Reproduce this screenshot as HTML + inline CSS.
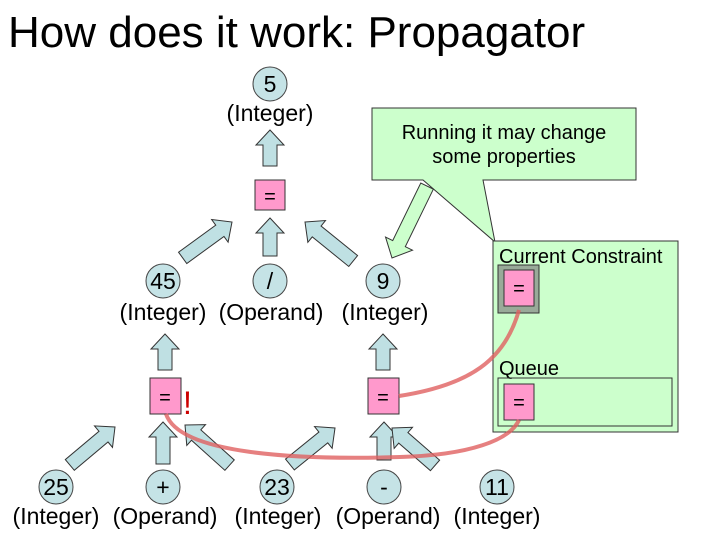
<!DOCTYPE html>
<html><head><style>
body{margin:0;background:#fff}
svg{display:block}
text{font-family:"Liberation Sans",sans-serif;fill:#000}
</style></head><body>
<svg width="720" height="540" viewBox="0 0 720 540">
<text x="8" y="47" font-size="44">How does it work: Propagator</text>

<!-- callout -->
<polygon points="372,108 636,108 636,180 483,180 495,242 423,180 372,180" fill="#ccffcc" stroke="#333" stroke-width="1"/>
<text x="504" y="139" font-size="20" text-anchor="middle">Running it may change</text>
<text x="504" y="163" font-size="20" text-anchor="middle">some properties</text>

<!-- green box -->
<rect x="493" y="241" width="185" height="191" fill="#ccffcc" stroke="#333"/>
<text x="499" y="263" font-size="20">Current Constraint</text>
<rect x="498" y="265" width="41" height="48" fill="#99aa99" stroke="#333"/>
<rect x="504" y="270" width="30" height="36" fill="#ff99cc" stroke="#333"/>
<text x="519" y="295" font-size="20" text-anchor="middle">=</text>
<text x="499" y="375" font-size="20">Queue</text>
<rect x="498" y="378" width="174" height="48" fill="none" stroke="#333"/>
<rect x="504" y="384" width="30" height="36" fill="#ff99cc" stroke="#333"/>
<text x="519" y="409" font-size="20" text-anchor="middle">=</text>

<!-- arrows -->
<g fill="#bfe0e3" stroke="#333" stroke-width="1">
<polygon transform="translate(270,130)" points="0,0 14,15 7,15 7,36 -7,36 -7,15 -14,15"/>
<polygon transform="translate(270,218)" points="0,0 14,15 7,15 7,38 -7,38 -7,15 -14,15"/>
<polygon transform="translate(232,222) rotate(54)" points="0,0 14,15 7,15 7,61 -7,61 -7,15 -14,15"/>
<polygon transform="translate(305,222) rotate(-51)" points="0,0 14,15 7,15 7,62 -7,62 -7,15 -14,15"/>
<polygon transform="translate(165,334)" points="0,0 14,15 7,15 7,36 -7,36 -7,15 -14,15"/>
<polygon transform="translate(383,334)" points="0,0 14,15 7,15 7,36 -7,36 -7,15 -14,15"/>
<polygon transform="translate(115,427) rotate(50)" points="0,0 14,15 7,15 7,59 -7,59 -7,15 -14,15"/>
<polygon transform="translate(163,422)" points="0,0 14,15 7,15 7,42 -7,42 -7,15 -14,15"/>
<polygon transform="translate(185,425) rotate(-48)" points="0,0 14,15 7,15 7,60 -7,60 -7,15 -14,15"/>
<polygon transform="translate(335,428) rotate(51)" points="0,0 14,15 7,15 7,58 -7,58 -7,15 -14,15"/>
<polygon transform="translate(384,422)" points="0,0 14,15 7,15 7,38 -7,38 -7,15 -14,15"/>
<polygon transform="translate(392,428) rotate(-49)" points="0,0 14,15 7,15 7,57 -7,57 -7,15 -14,15"/>
</g>
<polygon transform="translate(392,258) rotate(-154)" points="0,0 15,16 7,16 7,80 -7,80 -7,16 -15,16" fill="#ccffcc" stroke="#333"/>

<!-- circles -->
<g fill="#c5e3e6" stroke="#444" stroke-width="1">
<circle cx="270" cy="84" r="17"/>
<circle cx="163" cy="281" r="17"/>
<circle cx="270" cy="281" r="17"/>
<circle cx="383" cy="281" r="17"/>
<circle cx="56" cy="487" r="17"/>
<circle cx="163" cy="487" r="17"/>
<circle cx="277" cy="487" r="17"/>
<circle cx="384" cy="487" r="17"/>
<circle cx="497" cy="487" r="17"/>
</g>
<g font-size="23" text-anchor="middle">
<text x="270" y="92" font-size="23" text-anchor="middle">5</text>
<text x="270" y="121" font-size="23" text-anchor="middle">(Integer)</text>
<text x="163" y="289" font-size="23" text-anchor="middle">45</text>
<text x="270" y="289" font-size="23" text-anchor="middle">/</text>
<text x="383" y="289" font-size="23" text-anchor="middle">9</text>
<text x="163" y="320" font-size="23" text-anchor="middle">(Integer)</text>
<text x="271" y="320" font-size="23" text-anchor="middle">(Operand)</text>
<text x="385" y="320" font-size="23" text-anchor="middle">(Integer)</text>
<text x="56" y="495" font-size="23" text-anchor="middle">25</text>
<text x="163" y="495" font-size="23" text-anchor="middle">+</text>
<text x="277" y="495" font-size="23" text-anchor="middle">23</text>
<text x="384" y="495" font-size="23" text-anchor="middle">-</text>
<text x="497" y="495" font-size="23" text-anchor="middle">11</text>
<text x="56" y="524" font-size="23" text-anchor="middle">(Integer)</text>
<text x="165" y="524" font-size="23" text-anchor="middle">(Operand)</text>
<text x="278" y="524" font-size="23" text-anchor="middle">(Integer)</text>
<text x="388" y="524" font-size="23" text-anchor="middle">(Operand)</text>
<text x="497" y="524" font-size="23" text-anchor="middle">(Integer)</text>
</g>

<!-- constraint boxes -->
<g fill="#ff99cc" stroke="#333">
<rect x="255" y="180" width="30" height="30"/>
<rect x="150" y="378" width="31" height="36"/>
<rect x="368" y="378" width="31" height="36"/>
</g>
<text x="270" y="203" font-size="20" text-anchor="middle">=</text>
<text x="165" y="404" font-size="20" text-anchor="middle">=</text>
<text x="383" y="404" font-size="20" text-anchor="middle">=</text>
<text x="183" y="414" font-size="32" style="fill:#cc0000">!</text>

<!-- red curves -->
<g fill="none" stroke="#e06060" stroke-width="4" stroke-opacity="0.8">
<path d="M399,396 C470,385 505,360 519,310"/>
<path d="M166,414 C180,455 300,460 400,457 C470,455 510,440 519,420"/>
</g>
</svg>
</body></html>
